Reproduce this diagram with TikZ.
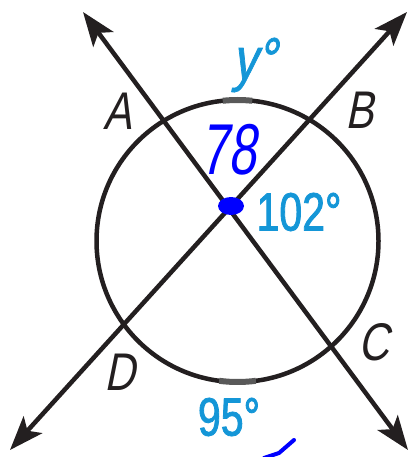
\documentclass[tikz,border=0pt]{standalone}
\usepackage{fontspec}
\setmainfont{Liberation Sans}
\newfontfamily\labfont[FakeStretch=0.8,FakeSlant=0.2]{Liberation Sans}
\newfontfamily\numfont[FakeStretch=0.76,FakeBold=1.5]{Liberation Sans}
\newfontfamily\yfont[FakeStretch=0.8,FakeSlant=0.2,FakeBold=1.2]{Liberation Sans}
\newfontfamily\handfont[FakeStretch=0.7,FakeSlant=0.15]{Liberation Sans}
\usetikzlibrary{arrows.meta}
\definecolor{lineblack}{HTML}{231F20}
\definecolor{measblue}{RGB}{20,150,215}
\definecolor{penblue}{RGB}{0,0,255}
\begin{document}
\begin{tikzpicture}[x=1pt,y=-1pt,
  geoline/.style={draw=lineblack, line width=4.5pt},
  dblarrow/.style={{Stealth[length=34pt,width=25pt,inset=8pt]}-{Stealth[length=34pt,width=25pt,inset=8pt]}},
  ptlabel/.style={font=\labfont\fontsize{53}{53}\selectfont, text=lineblack, inner sep=0pt},
  meas/.style={font=\numfont\fontsize{54}{54}\selectfont, text=measblue, inner sep=0pt},
  hand/.style={font=\handfont\fontsize{72}{72}\selectfont, text=penblue, inner sep=0pt},
  arcbar/.style={draw=black!65, line width=6pt}
]
\useasboundingbox (0,0) rectangle (411,457);
% key points
\coordinate (TL) at (83,12);
\coordinate (BR) at (408,450);
\coordinate (TR) at (407,12);
\coordinate (BL) at (10,450);
\coordinate (O) at (237.5,241);
\coordinate (X) at (231,206);
% circle and lines
\draw[geoline] (O) circle[radius=141pt];
\draw[arcbar] (O) ++(84:141pt) arc[start angle=84, end angle=96, radius=141pt];
\draw[arcbar] (O) ++(262.5:141pt) arc[start angle=262.5, end angle=277.5, radius=141pt];
\draw[geoline, dblarrow] (TL) -- (BR);
\draw[geoline, dblarrow] (TR) -- (BL);
% handwritten marks
\fill[penblue] (X) ellipse[x radius=13pt, y radius=9pt];
\node[hand] (n78) at (229,150) {78};
\draw[penblue, line width=4pt, line cap=round, line join=round] (264,458) -- (279,453) -- (294,440);
% labels
\node[ptlabel] (nA) at (118,111) {A};
\node[ptlabel] (nB) at (360,110) {B};
\node[ptlabel] (nC) at (374,342) {C};
\node[ptlabel] (nD) at (120,372) {D};
\node[meas, font=\yfont\fontsize{60}{60}\selectfont] (ny) at (254,65) {y°};
\node[meas] (n102) at (299,212) {102°};
\node[meas] (n95) at (229,417) {95°};
\end{tikzpicture}
\end{document}
